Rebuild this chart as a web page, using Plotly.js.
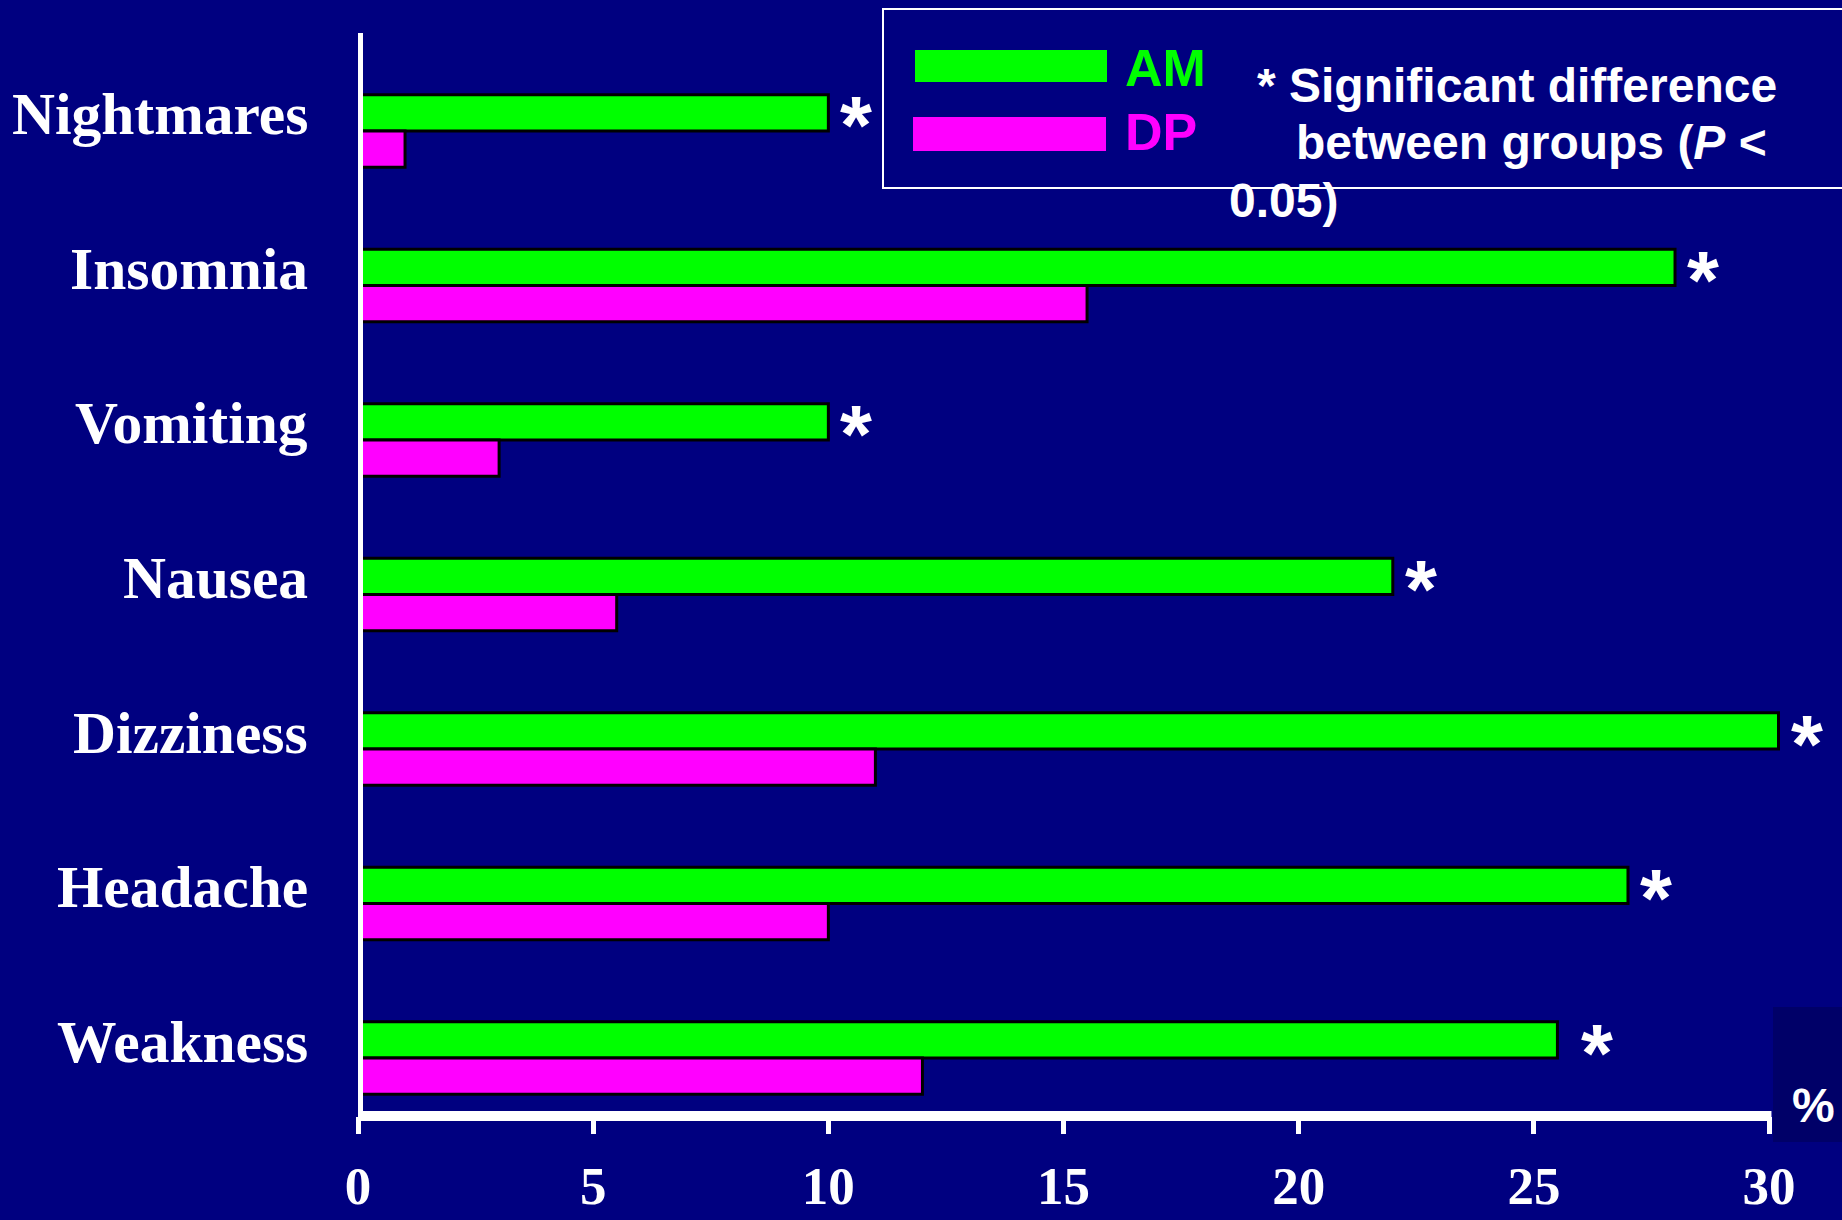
<!DOCTYPE html>
<html>
<head>
<meta charset="utf-8">
<script src="https://cdn.plot.ly/plotly-3.0.1.min.js"></script>
<style>
  html, body { margin: 0; padding: 0; background: #000080; }
  #chart { width: 1842px; height: 1220px; }
</style>
</head>
<body>
<div id="chart"></div>
<script>
// Side effects reported per group (%)
const categories = ['Nightmares', 'Insomnia', 'Vomiting', 'Nausea', 'Dizziness', 'Headache', 'Weakness'];
const amValues = [10, 28, 10, 22, 30.2, 27, 25.5];
const dpValues = [1, 15.5, 3, 5.5, 11, 10, 12];
const significant = [true, true, true, true, true, true, true];
const seriesNames = ['AM', 'DP'];
const xTickValues = [0, 5, 10, 15, 20, 25, 30];
const xTickLabels = ['0', '5', '10', '15', '20', '25', '30'];
const noteLines = ['* Significant difference', 'between groups (<i>P</i> <', '0.05)'];
const unitLabel = '%';

// Page geometry (pixels)
const W = 1842, H = 1220;
const M = { l: 358, r: 0, t: 35, b: 104 };
const plotW = W - M.l - M.r;
const plotH = H - M.t - M.b;
const px = x => (x - M.l) / plotW;          // page x -> paper x
const py = y => 1 - (y - M.t) / plotH;      // page y -> paper y

const NAVY = '#000080';
const GREEN = '#00ff00';
const MAGENTA = '#ff00ff';
const serif = 'Liberation Serif, Times New Roman, serif';
const sans = 'Liberation Sans, Arial, sans-serif';

const barLine = { color: '#000000', width: 3 };
const traces = [
  { type: 'bar', orientation: 'h', name: seriesNames[0], y: categories, x: amValues,
    marker: { color: GREEN, line: barLine }, hoverinfo: 'x+y' },
  { type: 'bar', orientation: 'h', name: seriesNames[1], y: categories, x: dpValues,
    marker: { color: MAGENTA, line: barLine }, hoverinfo: 'x+y' }
];

const annotations = [];

// Category names, aligned with the upper (AM) bar of each pair
categories.forEach(c => {
  annotations.push({
    xref: 'paper', x: 0, xanchor: 'right', xshift: -48,
    yref: 'y', y: c, yanchor: 'middle', yshift: 16.5,
    text: c, showarrow: false,
    font: { family: serif, size: 59.5, color: '#ffffff', weight: 'bold' }
  });
});

// Significance markers after the AM bars (the last one sits a little further out)
const starGap = 10;
const starExtraGap = { Weakness: 12 };
categories.forEach((c, i) => {
  if (!significant[i]) return;
  annotations.push({
    xref: 'x', x: amValues[i], xanchor: 'left', xshift: starGap + (starExtraGap[c] || 0),
    yref: 'y', y: c, yanchor: 'middle', yshift: 6,
    text: '*', showarrow: false,
    font: { family: sans, size: 82, color: '#ffffff', weight: 'bold' }
  });
});

// Legend entries
annotations.push({
  xref: 'paper', x: px(1123), xanchor: 'left', yref: 'paper', y: py(68), yanchor: 'middle',
  text: seriesNames[0], showarrow: false,
  font: { family: sans, size: 52, color: GREEN, weight: 'bold' }
});
annotations.push({
  xref: 'paper', x: px(1123), xanchor: 'left', yref: 'paper', y: py(132), yanchor: 'middle',
  text: seriesNames[1], showarrow: false,
  font: { family: sans, size: 52, color: MAGENTA, weight: 'bold' }
});

// Significance note
const noteX = [1255, 1294, 1227];
const noteY = [85, 142, 201];
noteLines.forEach((t, i) => {
  annotations.push({
    xref: 'paper', x: px(noteX[i]), xanchor: 'left', yref: 'paper', y: py(noteY[i]), yanchor: 'middle',
    text: t, showarrow: false,
    font: { family: sans, size: 48, color: '#ffffff', weight: 'bold' }
  });
});

// Unit label
annotations.push({
  xref: 'paper', x: px(1813), xanchor: 'center', yref: 'paper', y: py(1105), yanchor: 'middle',
  text: unitLabel, showarrow: false,
  font: { family: sans, size: 48, color: '#ffffff', weight: 'bold' }
});

const shapes = [
  // legend frame
  { type: 'rect', xref: 'paper', yref: 'paper', x0: px(883), x1: px(1850), y0: py(188), y1: py(9),
    line: { color: '#ffffff', width: 2 }, fillcolor: 'rgba(0,0,0,0)', layer: 'above' },
  // legend swatches
  { type: 'rect', xref: 'paper', yref: 'paper', x0: px(915), x1: px(1107), y0: py(82), y1: py(50),
    line: { width: 0 }, fillcolor: GREEN, layer: 'above' },
  { type: 'rect', xref: 'paper', yref: 'paper', x0: px(913), x1: px(1106), y0: py(151), y1: py(117),
    line: { width: 0 }, fillcolor: MAGENTA, layer: 'above' },
  // unit box
  { type: 'rect', xref: 'paper', yref: 'paper', x0: px(1773), x1: px(1850), y0: py(1142), y1: py(1007),
    line: { width: 0 }, fillcolor: '#000068', layer: 'below' },
  // axis lines
  { type: 'line', xref: 'x', yref: 'paper', x0: 0, x1: 0, y0: py(1121), y1: py(33),
    line: { color: '#ffffff', width: 10 }, layer: 'above' },
  { type: 'line', xref: 'x', yref: 'paper', x0: -0.1, x1: xTickValues[xTickValues.length - 1] + 0.05, y0: 0, y1: 0,
    line: { color: '#ffffff', width: 10 }, layer: 'above' }
];

const layout = {
  width: W, height: H,
  margin: M,
  paper_bgcolor: NAVY,
  plot_bgcolor: NAVY,
  barmode: 'group',
  bargap: 0.53,
  bargroupgap: 0,
  showlegend: false,
  xaxis: {
    range: [0, 31.55],
    showgrid: false, zeroline: false, showline: false,
    tickmode: 'array', tickvals: xTickValues, ticktext: xTickLabels,
    ticks: 'outside', ticklen: 17, tickwidth: 5, tickcolor: '#ffffff',
    ticklabelstandoff: 6,
    tickfont: { family: serif, size: 53, color: '#ffffff', weight: 'bold' }
  },
  yaxis: {
    type: 'category',
    categoryorder: 'array', categoryarray: categories,
    range: [6.375, -0.621],
    showgrid: false, zeroline: false, showline: false,
    showticklabels: false, ticks: ''
  },
  annotations: annotations,
  shapes: shapes
};

Plotly.newPlot('chart', traces, layout, { displayModeBar: false, staticPlot: true });
</script>
</body>
</html>
